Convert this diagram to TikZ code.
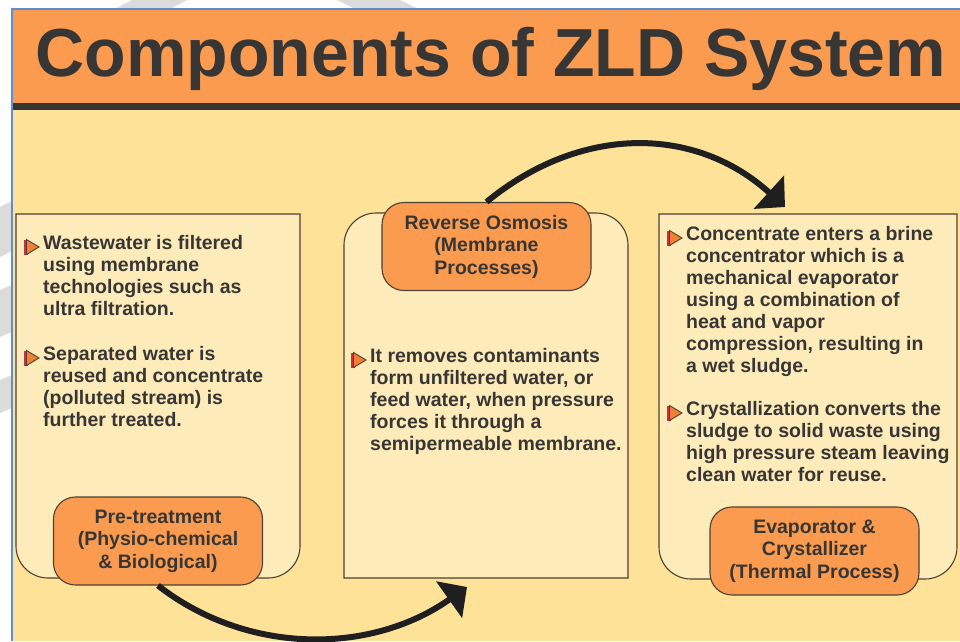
\documentclass[tikz,border=0pt]{standalone}
\usepackage{fontspec}
\setmainfont{Liberation Sans}
\usetikzlibrary{arrows.meta,positioning,calc}

\definecolor{zldorange}{RGB}{250,155,80}
\definecolor{zldcream}{RGB}{253,226,152}
\definecolor{zldpanel}{RGB}{253,235,186}
\definecolor{zldink}{RGB}{56,54,52}
\definecolor{zldedge}{RGB}{78,64,50}
\definecolor{zldblue}{RGB}{95,140,210}
\definecolor{zldred}{RGB}{205,45,75}
\definecolor{zldmark}{RGB}{240,128,52}

\tikzset{
  zld/panel/.style={draw=zldedge, fill=zldpanel, line width=1.1pt},
  zld/pill/.style={draw=zldedge, fill=zldorange, line width=1.1pt, rounded corners=22pt,
    minimum width=209pt, minimum height=88pt, align=center, inner sep=0pt, text=zldink,
    font=\bfseries\fontsize{19.5}{22.5}\selectfont},
  zld/body/.style={anchor=north west, inner sep=0pt, align=left, text=zldink,
    font=\bfseries\fontsize{19.5}{22}\selectfont},
  zld/flow/.style={line width=6pt, draw=black!88, -{Triangle[length=22pt,width=44pt]}},
  zld/watermark/.style={fill=black!14},
  pointer/.pic={
    \fill[zldred] (-15,-7.5) rectangle (-11,7.5);
    \draw[fill=zldmark, draw=zldedge, line width=0.9pt] (-12.5,-7.5) -- (-12.5,7.5) -- (0,0) -- cycle;
  }
}

\begin{document}
\begin{tikzpicture}[x=1pt, y=1pt]
  \useasboundingbox (0,0) rectangle (960,641);

  % faint marks in the white margin
  \fill[zld/watermark] (132,641) -- (187,641) -- (170,632) -- (115,632) -- cycle;
  \fill[zld/watermark] (337,641) -- (400,641) -- (418,632) -- (355,632) -- cycle;
  \fill[zld/watermark] (0,434) -- (12,440) -- (12,390) -- (0,384) -- cycle;
  \fill[zld/watermark] (0,351) -- (12,356) -- (12,309) -- (0,304) -- cycle;
  \fill[zld/watermark] (0,261) -- (12,266) -- (12,233) -- (0,228) -- cycle;

  % sheet and title band
  \fill[zldcream] (12,0) rectangle (960,632);
  \fill[zldorange] (12,538) rectangle (960,632);
  \fill[zldink] (12,531) rectangle (960,538);
  \draw[zldblue, line width=1.5pt] (12,0) -- (12,632) -- (960,632);

  \node[font=\bfseries\fontsize{68}{70}\selectfont, text=zldink, anchor=base] (title)
    at (491,564) {Components of ZLD System};

  % three panels
  \draw[zld/panel] (16,427) -- (300,427) -- (300,95) arc[start angle=0, end angle=-90, radius=32]
    -- (48,63) arc[start angle=270, end angle=180, radius=32] -- cycle;
  \draw[zld/panel] (344,63) -- (628,63) -- (628,396) arc[start angle=0, end angle=90, radius=32]
    -- (376,428) arc[start angle=90, end angle=180, radius=32] -- cycle;
  \draw[zld/panel] (659,427) -- (957,427) -- (957,94) arc[start angle=0, end angle=-90, radius=32]
    -- (691,62) arc[start angle=270, end angle=180, radius=32] -- cycle;

  % stage labels
  \node[zld/pill] (pre) at (158,100) {Pre-treatment\\(Physio-chemical\\\& Biological)};
  \node[zld/pill] (ro) at (486.5,394.5) {Reverse Osmosis\\(Membrane\\Processes)};
  \node[zld/pill] (evap) at (814.5,90) {Evaporator \&\\Crystallizer\\(Thermal Process)};

  % bullet texts
  \node[zld/body] (pre1) at (43,406) {Wastewater is filtered\\using membrane\\technologies such as\\ultra filtration.};
  \node[zld/body] (pre2) at (43,295) {Separated water is\\reused and concentrate\\(polluted stream) is\\further treated.};
  \node[zld/body] (ro1) at (370,293) {It removes contaminants\\form unfiltered water, or\\feed water, when pressure\\forces it through a\\semipermeable membrane.};
  \node[zld/body] (evap1) at (686,415) {Concentrate enters a brine\\concentrator which is a\\mechanical evaporator\\using a combination of\\heat and vapor\\compression, resulting in\\a wet sludge.};
  \node[zld/body] (evap2) at (686,240) {Crystallization converts the\\sludge to solid waste using\\high pressure steam leaving\\clean water for reuse.};

  \foreach \t in {pre1,pre2,ro1,evap1,evap2}
    \pic at ([xshift=-4pt,yshift=-12pt]\t.north west) {pointer};

  % flow between stages
  \coordinate (rotip) at (467,54);
  \coordinate (evtip) at (785,434);
  \draw[zld/flow] (pre.south) .. controls (247,-14) and (371,-14) .. (rotip);
  \draw[zld/flow] (ro.north) .. controls (580,516) and (695,516) .. (evtip);
\end{tikzpicture}
\end{document}
